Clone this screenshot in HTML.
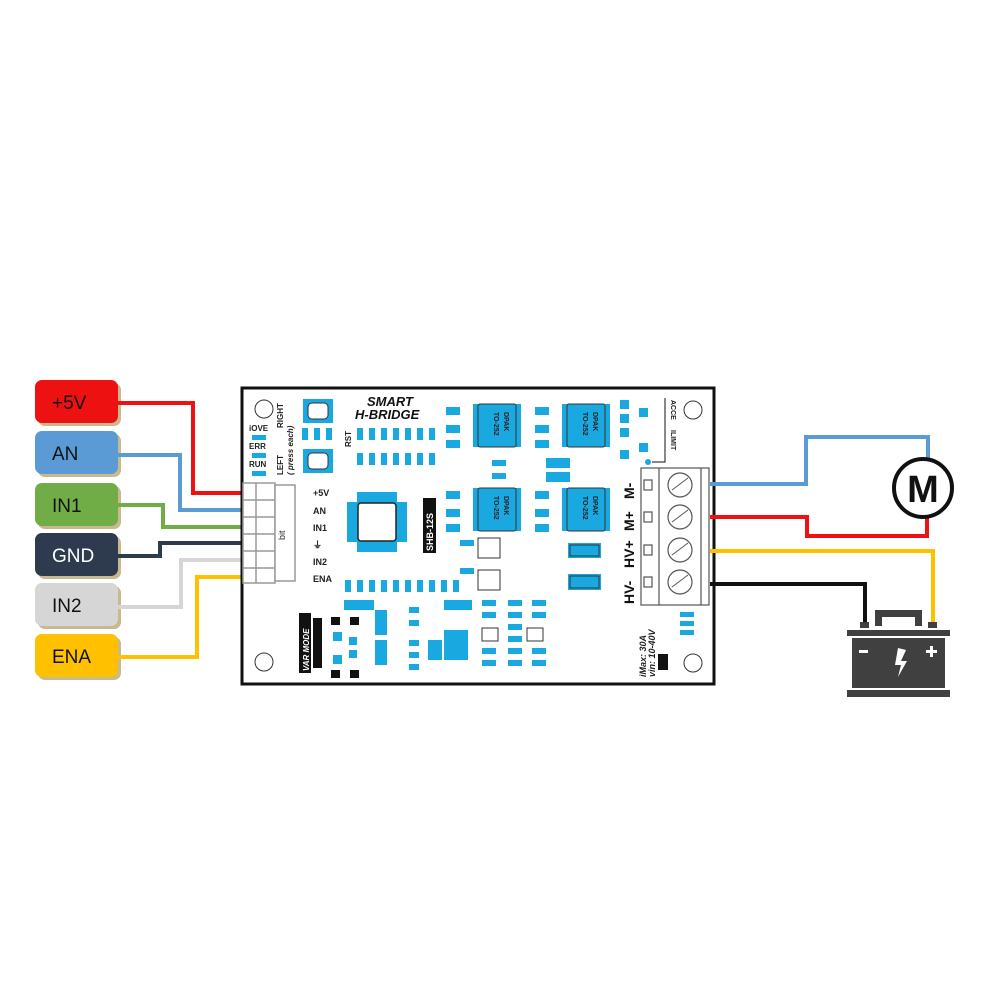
<!DOCTYPE html>
<html><head><meta charset="utf-8"><style>
html,body{margin:0;padding:0;background:#fff}
svg{display:block}
text{font-family:"Liberation Sans",sans-serif}
</style></head><body>
<svg width="1000" height="1000" viewBox="0 0 1000 1000" xmlns="http://www.w3.org/2000/svg">
<!-- label boxes -->
<g font-size="19">
<rect x="38" y="383" width="83" height="43" rx="7" fill="#c9b98e"/><rect x="35" y="380" width="83" height="43" rx="7" fill="#ee1111"/><text x="52" y="409" fill="#111">+5V</text>
<rect x="38" y="434" width="83" height="43" rx="7" fill="#c9b98e"/><rect x="35" y="431" width="83" height="43" rx="7" fill="#5b9bd5"/><text x="52" y="460" fill="#111">AN</text>
<rect x="38" y="486" width="83" height="43" rx="7" fill="#c9b98e"/><rect x="35" y="483" width="83" height="43" rx="7" fill="#70ad47"/><text x="52" y="512" fill="#111">IN1</text>
<rect x="38" y="536" width="83" height="43" rx="7" fill="#c9b98e"/><rect x="35" y="533" width="83" height="43" rx="7" fill="#2e3b4e"/><text x="52" y="562" fill="#fff">GND</text>
<rect x="38" y="586" width="83" height="43" rx="7" fill="#c9b98e"/><rect x="35" y="583" width="83" height="43" rx="7" fill="#d6d6d6"/><text x="52" y="612" fill="#111">IN2</text>
<rect x="38" y="637" width="83" height="43" rx="7" fill="#c9b98e"/><rect x="35" y="634" width="83" height="43" rx="7" fill="#ffc000"/><text x="52" y="663" fill="#111">ENA</text>
</g>
<!-- left wires -->
<g fill="none" stroke-width="4">
<polyline points="118,403 193,403 193,493 262,493" stroke="#ee1111"/>
<polyline points="118,455 180,455 180,510 262,510" stroke="#5b9bd5"/>
<polyline points="118,505 163,505 163,527 262,527" stroke="#70ad47"/>
<polyline points="118,556 160,556 160,543 262,543" stroke="#2e3b4e"/>
<polyline points="118,607 181,607 181,560 262,560" stroke="#d6d6d6"/>
<polyline points="118,657 197,657 197,577 262,577" stroke="#ffc000"/>
</g>
<!-- board -->
<rect x="242" y="388" width="472" height="296" fill="#fff" stroke="#111" stroke-width="3"/>
<g fill="none" stroke="#333" stroke-width="1"><circle cx="264" cy="409" r="9"/><circle cx="264" cy="662" r="9"/><circle cx="693" cy="410" r="9"/><circle cx="693" cy="663" r="9"/></g>
<g font-size="8" font-weight="bold" fill="#222">
<text x="249" y="431">iOVE</text><text x="249" y="449">ERR</text><text x="249" y="467">RUN</text>
</g>
<g fill="#1aa8e0"><rect x="252" y="435" width="14" height="5"/><rect x="252" y="453" width="14" height="5"/><rect x="252" y="471" width="14" height="5"/></g>
<text transform="translate(283,428) rotate(-90)" font-size="8" font-weight="bold" fill="#222">RIGHT</text>
<text transform="translate(283,475) rotate(-90)" font-size="8" font-weight="bold" fill="#222">LEFT</text>
<text transform="translate(293,475) rotate(-90)" font-size="8" font-style="italic" font-weight="bold" fill="#222">( press each)</text>
<text transform="translate(351,447) rotate(-90)" font-size="8" font-weight="bold" fill="#222">RST</text>
<g fill="#1aa8e0"><rect x="303" y="399" width="30" height="24"/><rect x="303" y="449" width="30" height="24"/></g>
<g fill="#fff" stroke="#333"><rect x="308" y="403" width="20" height="16" rx="4"/><rect x="308" y="453" width="20" height="16" rx="4"/></g>
<text x="367" y="406" font-size="13" font-weight="bold" font-style="italic" fill="#111">SMART</text>
<text x="355" y="419" font-size="13" font-weight="bold" font-style="italic" fill="#111">H-BRIDGE</text>
<!-- small SMD rows -->
<g fill="#1aa8e0">
<rect x="302" y="428" width="6" height="12"/><rect x="314" y="428" width="6" height="12"/><rect x="326" y="428" width="6" height="12"/>
<rect x="357" y="428" width="6" height="12"/><rect x="369" y="428" width="6" height="12"/><rect x="381" y="428" width="6" height="12"/><rect x="393" y="428" width="6" height="12"/><rect x="405" y="428" width="6" height="12"/><rect x="417" y="428" width="6" height="12"/><rect x="429" y="428" width="6" height="12"/>
<rect x="357" y="453" width="6" height="12"/><rect x="369" y="453" width="6" height="12"/><rect x="381" y="453" width="6" height="12"/><rect x="393" y="453" width="6" height="12"/><rect x="405" y="453" width="6" height="12"/><rect x="417" y="453" width="6" height="12"/><rect x="429" y="453" width="6" height="12"/>
<rect x="345" y="580" width="6" height="12"/><rect x="357" y="580" width="6" height="12"/><rect x="369" y="580" width="6" height="12"/><rect x="381" y="580" width="6" height="12"/><rect x="393" y="580" width="6" height="12"/><rect x="405" y="580" width="6" height="12"/><rect x="417" y="580" width="6" height="12"/><rect x="429" y="580" width="6" height="12"/><rect x="441" y="580" width="6" height="12"/><rect x="453" y="580" width="6" height="12"/>
</g>
<!-- header connector -->
<g fill="#fff" stroke="#999" stroke-width="1.5">
<rect x="243" y="483" width="32" height="100"/>
<rect x="275" y="485" width="20" height="96"/>
<line x1="243" y1="500" x2="275" y2="500"/><line x1="243" y1="517" x2="275" y2="517"/><line x1="243" y1="534" x2="275" y2="534"/><line x1="243" y1="551" x2="275" y2="551"/><line x1="243" y1="568" x2="275" y2="568"/>
<line x1="256" y1="483" x2="256" y2="583"/>
</g>
<text transform="translate(285,540) rotate(-90)" font-size="9" fill="#333">bit</text>
<g font-size="9" font-weight="bold" fill="#222">
<text x="313" y="496">+5V</text><text x="313" y="514">AN</text><text x="313" y="531">IN1</text><text x="313" y="548">⏚</text><text x="313" y="565">IN2</text><text x="313" y="582">ENA</text>
</g>
<!-- MCU -->
<g fill="#1aa8e0"><rect x="357" y="492" width="40" height="60"/><rect x="347" y="502" width="60" height="40"/></g>
<rect x="358" y="503" width="38" height="38" rx="3" fill="#fff" stroke="#222" stroke-width="1.5"/>
<rect x="423" y="498" width="13" height="55" fill="#111"/>
<text transform="translate(433,551) rotate(-90)" font-size="9" font-weight="bold" fill="#fff">SHB-12S</text>
<!-- DPAKs -->
<g fill="#1aa8e0">
<rect x="473" y="404" width="48" height="43"/><rect x="562" y="404" width="48" height="43"/>
<rect x="473" y="488" width="48" height="43"/><rect x="562" y="488" width="48" height="43"/>
<rect x="446" y="407" width="14" height="8"/><rect x="446" y="425" width="14" height="8"/><rect x="446" y="440" width="14" height="8"/>
<rect x="535" y="407" width="14" height="8"/><rect x="535" y="425" width="14" height="8"/><rect x="535" y="440" width="14" height="8"/>
<rect x="446" y="491" width="14" height="8"/><rect x="446" y="509" width="14" height="8"/><rect x="446" y="524" width="14" height="8"/>
<rect x="535" y="491" width="14" height="8"/><rect x="535" y="509" width="14" height="8"/><rect x="535" y="524" width="14" height="8"/>
<rect x="492" y="460" width="14" height="6"/><rect x="492" y="473" width="14" height="6"/>
<rect x="546" y="458" width="24" height="10"/><rect x="546" y="472" width="24" height="10"/>
<rect x="620" y="400" width="9" height="9"/><rect x="620" y="414" width="9" height="9"/><rect x="620" y="428" width="9" height="9"/><rect x="620" y="450" width="9" height="9"/>
<rect x="639" y="408" width="9" height="9"/><rect x="639" y="443" width="9" height="9"/>
<circle cx="648" cy="462" r="3"/>
<rect x="568" y="543" width="33" height="15"/><rect x="568" y="574" width="33" height="16"/>
<rect x="460" y="540" width="14" height="6"/><rect x="460" y="568" width="14" height="6"/>
<rect x="680" y="612" width="14" height="5"/><rect x="680" y="621" width="14" height="5"/><rect x="680" y="630" width="14" height="5"/>
<rect x="344" y="600" width="30" height="10"/><rect x="444" y="600" width="28" height="10"/><rect x="444" y="630" width="24" height="30"/><rect x="428" y="640" width="14" height="20"/>
<rect x="375" y="610" width="12" height="25"/><rect x="375" y="640" width="12" height="25"/>
<rect x="333" y="632" width="9" height="9"/><rect x="349" y="637" width="8" height="8"/><rect x="349" y="650" width="8" height="8"/><rect x="333" y="655" width="9" height="9"/>
</g>
<g fill="none" stroke="#333" stroke-width="1">
<rect x="478" y="404" width="38" height="43" rx="2"/><rect x="567" y="404" width="38" height="43" rx="2"/>
<rect x="478" y="488" width="38" height="43" rx="2"/><rect x="567" y="488" width="38" height="43" rx="2"/>
<rect x="478" y="538" width="22" height="20"/><rect x="478" y="570" width="22" height="20"/>
<rect x="570" y="545" width="29" height="11"/><rect x="570" y="576" width="29" height="12"/>
<rect x="482" y="628" width="16" height="13"/><rect x="527" y="628" width="16" height="13"/>
</g>
<g font-size="7" font-weight="bold" fill="#222">
<text transform="translate(504,412) rotate(90)">DPAK</text><text transform="translate(494,412) rotate(90)">TO-252</text>
<text transform="translate(593,412) rotate(90)">DPAK</text><text transform="translate(583,412) rotate(90)">TO-252</text>
<text transform="translate(504,496) rotate(90)">DPAK</text><text transform="translate(494,496) rotate(90)">TO-252</text>
<text transform="translate(593,496) rotate(90)">DPAK</text><text transform="translate(583,496) rotate(90)">TO-252</text>
<text transform="translate(671,400) rotate(90)">ACCE</text><text transform="translate(671,430) rotate(90)">ILIMIT</text>
</g>
<polyline points="665,398 665,462 652,462" fill="none" stroke="#111" stroke-width="1"/>
<!-- small smd grid -->
<g fill="#1aa8e0">
<rect x="508" y="600" width="14" height="6"/><rect x="532" y="600" width="14" height="6"/>
<rect x="508" y="612" width="14" height="6"/><rect x="532" y="612" width="14" height="6"/>
<rect x="508" y="624" width="14" height="6"/><rect x="508" y="636" width="14" height="6"/>
<rect x="508" y="648" width="14" height="6"/><rect x="532" y="648" width="14" height="6"/>
<rect x="508" y="660" width="14" height="6"/><rect x="532" y="660" width="14" height="6"/>
<rect x="482" y="600" width="14" height="6"/><rect x="482" y="612" width="14" height="6"/><rect x="482" y="648" width="14" height="6"/><rect x="482" y="660" width="14" height="6"/>
<rect x="409" y="607" width="10" height="6"/><rect x="409" y="620" width="10" height="6"/><rect x="409" y="640" width="10" height="6"/><rect x="409" y="652" width="10" height="6"/><rect x="409" y="664" width="10" height="6"/>
</g>
<!-- VAR MODE -->
<rect x="299" y="613" width="12" height="60" fill="#111"/>
<text transform="translate(309,671) rotate(-90)" font-size="8" font-weight="bold" font-style="italic" fill="#fff">VAR MODE</text>
<rect x="313" y="618" width="9" height="50" fill="#111"/>
<g fill="#111"><rect x="331" y="617" width="9" height="8"/><rect x="350" y="617" width="9" height="8"/><rect x="331" y="670" width="9" height="8"/><rect x="350" y="670" width="9" height="8"/></g>
<!-- terminal block -->
<g fill="#fff" stroke="#555" stroke-width="1.2">
<rect x="641" y="468" width="68" height="137"/>
<line x1="659" y1="468" x2="659" y2="605"/><line x1="701" y1="468" x2="701" y2="605"/>
<circle cx="680" cy="485" r="12"/><circle cx="680" cy="517" r="12"/><circle cx="680" cy="550" r="12"/><circle cx="680" cy="582" r="12"/>
<rect x="644" y="480" width="8" height="10"/><rect x="644" y="512" width="8" height="10"/><rect x="644" y="545" width="8" height="10"/><rect x="644" y="577" width="8" height="10"/>
</g>
<g stroke="#555" stroke-width="1"><line x1="672" y1="490" x2="688" y2="478"/><line x1="672" y1="522" x2="688" y2="510"/><line x1="672" y1="555" x2="688" y2="543"/><line x1="672" y1="587" x2="688" y2="575"/></g>
<g font-size="14" font-weight="bold" fill="#111">
<text transform="translate(634,499) rotate(-90)">M-</text>
<text transform="translate(634,531) rotate(-90)">M+</text>
<text transform="translate(634,568) rotate(-90)">HV+</text>
<text transform="translate(634,604) rotate(-90)">HV-</text>
</g>
<g font-size="9" font-style="italic" font-weight="bold" fill="#222">
<text transform="translate(646,677) rotate(-90)">iMax: 30A</text>
<text transform="translate(655,677) rotate(-90)">vin: 10-40V</text>
</g>
<rect x="658" y="654" width="10" height="16" fill="#111"/>
<!-- right wires -->
<g fill="none" stroke-width="4">
<polyline points="710,484 806,484 806,437 928,437 928,460" stroke="#5b9bd5"/>
<polyline points="710,517 807,517 807,536 927,536 927,514" stroke="#ee1111"/>
<polyline points="710,551 933,551 933,625" stroke="#ffc000"/>
<polyline points="710,584 865,584 865,624" stroke="#111"/>
</g>
<!-- motor -->
<circle cx="923" cy="488" r="29" fill="#fff" stroke="#111" stroke-width="4"/>
<text x="923" y="502" font-size="38" font-weight="bold" text-anchor="middle" fill="#111">M</text>
<!-- battery -->
<g fill="#404040">
<rect x="875" y="610" width="47" height="7" rx="2"/><rect x="875" y="610" width="7" height="16"/><rect x="915" y="610" width="7" height="16"/>
<rect x="860" y="622" width="9" height="6"/><rect x="928" y="622" width="9" height="6"/>
<rect x="847" y="630" width="103" height="6"/>
<rect x="852" y="638" width="93" height="50"/>
<rect x="847" y="690" width="103" height="7"/>
</g>
<g fill="#fff"><rect x="859" y="650" width="9" height="3"/><rect x="926" y="650" width="11" height="3"/><rect x="930" y="646" width="3" height="11"/>
<polygon points="898,648 906,650 901,661 907,661 898,677 901,665 895,665"/></g>
</svg>
</body></html>
